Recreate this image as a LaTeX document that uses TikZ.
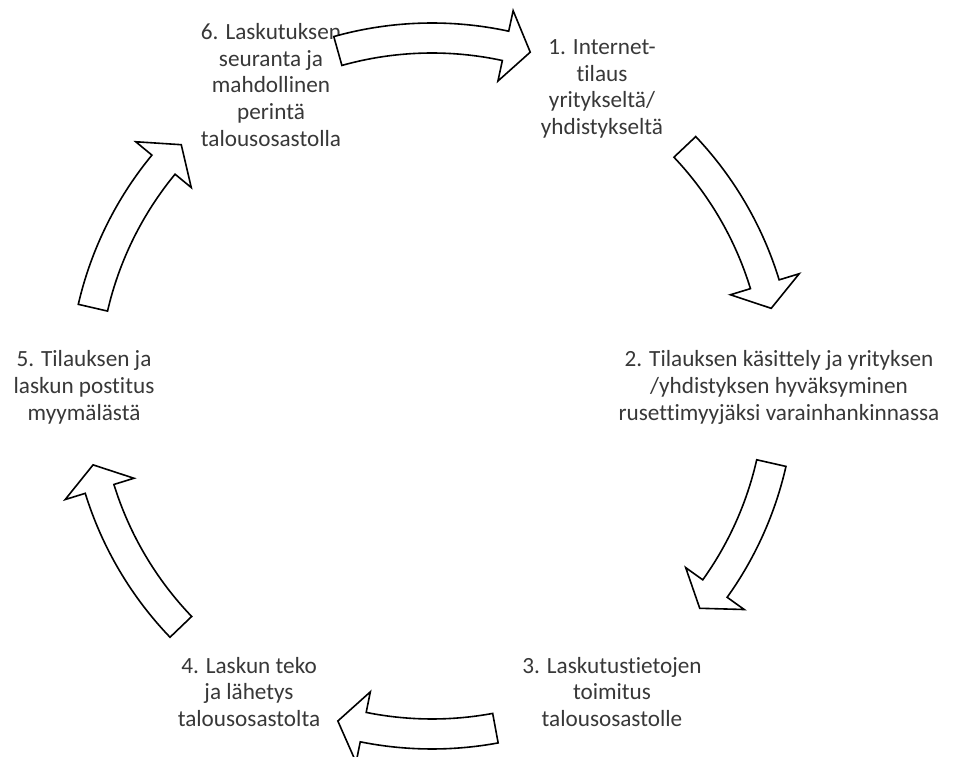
\documentclass[tikz,border=0pt]{standalone}
\usepackage{fontspec}
\setmainfont{Carlito}[Ligatures=NoCommon]
\definecolor{labelgray}{RGB}{56,56,56}
\tikzset{
  steplabel/.style={align=center, inner sep=0pt, text=labelgray,
    font=\fontsize{23.2pt}{26.7pt}\selectfont},
  cyclearrow/.style={draw=black, fill=white, line width=1.6pt, line join=miter}
}
% curved block arrow on the cycle: #1 tail angle, #2 head base angle, #3 tip angle
\newcommand\blockarc[3]{%
  \draw[cyclearrow] (#1:363pt) arc[start angle=#1, end angle=#2, radius=363pt]
    -- (#2:384pt) -- (#3:348pt) -- (#2:312pt) -- (#2:333pt)
    arc[start angle=#2, end angle=#1, radius=333pt] -- cycle;}
\begin{document}
\begin{tikzpicture}[x=1pt, y=1pt]
  \clip (0,0) rectangle (956,756);
  \fill[white] (0,0) rectangle (956,756);

  % step labels
  \node[steplabel] (s6) at (271,671) {6. Laskutuksen\\seuranta ja\\mahdollinen\\perintä\\talousosastolla};
  \node[steplabel] (s1) at (602,667) {1. Internet-\\tilaus\\yritykseltä/\\yhdistykseltä};
  \node[steplabel] (s2) at (779,368.5) {2. Tilauksen käsittely ja yrityksen\\/yhdistyksen hyväksyminen\\rusettimyyjäksi varainhankinnassa};
  \node[steplabel] (s3) at (612,64) {3. Laskutustietojen\\toimitus\\talousosastolle};
  \node[steplabel] (s4) at (249,64) {4. Laskun teko\\ja lähetys\\talousosastolta};
  \node[steplabel] (s5) at (84,368.5) {5. Tilauksen ja\\laskun postitus\\myymälästä};

  % arrows around the cycle
  \begin{scope}[shift={(432,370)}]
    \blockarc{105.7}{77.8}{73.6}
    \blockarc{43.4}{17.0}{12.9}
    \blockarc{-12.8}{-35.6}{-39.7}
    \blockarc{-79.5}{-101.4}{-105.7}
    \blockarc{-136.2}{-162.8}{-166.9}
    \blockarc{167.0}{140.5}{136.1}
  \end{scope}
\end{tikzpicture}
\end{document}
